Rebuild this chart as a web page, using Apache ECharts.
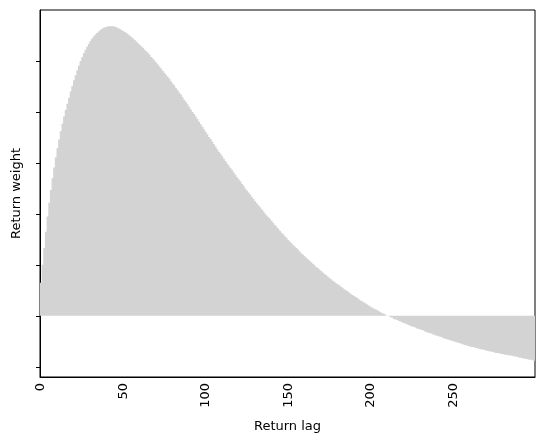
<!DOCTYPE html>
<html lang="en">
<head>
<meta charset="UTF-8">
<title></title>
<style>
    html, body { margin: 0; padding: 0; background: #fff; }
    #chart { width: 545px; height: 445px; }
</style>
</head>
<body>
<div id="chart"></div>
<script src="https://cdn.jsdelivr.net/npm/echarts@6/dist/echarts.min.js"></script>
<script>
    // return weight per lag (lag 0..299)
    var weights = [
        0.65, 1.00, 1.33, 1.65, 1.95, 2.22, 2.47, 2.70, 2.91, 3.11,
        3.29, 3.46, 3.62, 3.77, 3.91, 4.04, 4.16, 4.28, 4.40, 4.51,
        4.62, 4.72, 4.82, 4.91, 5.00, 5.08, 5.15, 5.22, 5.28, 5.34,
        5.39, 5.44, 5.48, 5.52, 5.55, 5.58, 5.61, 5.63, 5.65, 5.66,
        5.67, 5.68, 5.68, 5.68, 5.68, 5.67, 5.66, 5.64, 5.63, 5.61,
        5.59, 5.57, 5.55, 5.52, 5.50, 5.47, 5.44, 5.41, 5.38, 5.35,
        5.32, 5.29, 5.26, 5.22, 5.19, 5.16, 5.12, 5.08, 5.05, 5.01,
        4.97, 4.93, 4.89, 4.85, 4.81, 4.77, 4.73, 4.69, 4.65, 4.60,
        4.56, 4.52, 4.47, 4.43, 4.38, 4.34, 4.29, 4.24, 4.20, 4.15,
        4.10, 4.05, 4.00, 3.96, 3.91, 3.86, 3.81, 3.76, 3.71, 3.66,
        3.61, 3.56, 3.51, 3.47, 3.42, 3.37, 3.32, 3.27, 3.22, 3.18,
        3.13, 3.08, 3.04, 2.99, 2.95, 2.90, 2.86, 2.81, 2.77, 2.72,
        2.68, 2.64, 2.59, 2.55, 2.50, 2.46, 2.42, 2.38, 2.33, 2.29,
        2.25, 2.21, 2.17, 2.13, 2.09, 2.05, 2.01, 1.97, 1.94, 1.90,
        1.86, 1.82, 1.78, 1.75, 1.71, 1.67, 1.63, 1.60, 1.56, 1.53,
        1.49, 1.46, 1.43, 1.39, 1.36, 1.33, 1.30, 1.26, 1.23, 1.20,
        1.17, 1.14, 1.11, 1.08, 1.05, 1.02, 0.99, 0.96, 0.94, 0.91,
        0.88, 0.85, 0.82, 0.80, 0.77, 0.74, 0.72, 0.69, 0.67, 0.64,
        0.62, 0.60, 0.57, 0.55, 0.52, 0.50, 0.48, 0.46, 0.43, 0.41,
        0.39, 0.37, 0.35, 0.32, 0.30, 0.28, 0.26, 0.24, 0.22, 0.20,
        0.18, 0.16, 0.14, 0.13, 0.11, 0.09, 0.07, 0.05, 0.04, 0.02,
        0.00, -0.01, -0.03, -0.04, -0.06, -0.07, -0.08, -0.10, -0.11, -0.13,
        -0.14, -0.15, -0.17, -0.18, -0.20, -0.21, -0.22, -0.23, -0.25, -0.26,
        -0.27, -0.28, -0.29, -0.31, -0.32, -0.33, -0.34, -0.35, -0.37, -0.38,
        -0.39, -0.40, -0.41, -0.42, -0.44, -0.45, -0.46, -0.47, -0.48, -0.49,
        -0.50, -0.51, -0.52, -0.53, -0.54, -0.55, -0.56, -0.57, -0.58, -0.59,
        -0.60, -0.61, -0.61, -0.62, -0.63, -0.64, -0.65, -0.66, -0.66, -0.67,
        -0.68, -0.69, -0.70, -0.70, -0.71, -0.72, -0.73, -0.73, -0.74, -0.75,
        -0.75, -0.76, -0.77, -0.77, -0.78, -0.78, -0.79, -0.80, -0.80, -0.81,
        -0.82, -0.82, -0.83, -0.84, -0.84, -0.85, -0.86, -0.86, -0.87, -0.88
    ];
    var lags = weights.map(function (v, i) { return String(i); });
    // unlabeled y ticks
    var yTicks = [-1, 0, 1, 2, 3, 4, 5];

    var font = 'DejaVu Sans';
    var myChart = echarts.init(document.getElementById('chart'));

    var option = {
        animation: false,
        grid: {
            left: 40, right: 10, top: 10, bottom: 68,
            show: true, borderColor: '#000', borderWidth: 1, backgroundColor: 'transparent'
        },
        xAxis: {
            type: 'category',
            data: lags,
            name: 'Return lag',
            nameLocation: 'middle',
            nameGap: 43,
            nameTextStyle: { fontFamily: font, fontSize: 13, color: '#000' },
            axisLine: { onZero: false, lineStyle: { color: '#000', width: 1 } },
            axisTick: {
                alignWithLabel: true, length: 4,
                interval: function (i) { return i % 50 === 0; },
                lineStyle: { color: '#000' }
            },
            axisLabel: {
                rotate: 90, margin: 6,
                interval: function (i) { return i % 50 === 0; },
                fontFamily: font, fontSize: 13, color: '#000'
            },
            splitLine: { show: false }
        },
        yAxis: {
            type: 'value',
            min: -1.2,
            max: 6,
            name: 'Return weight',
            nameLocation: 'middle',
            nameGap: 17,
            nameTextStyle: { fontFamily: font, fontSize: 13, color: '#000' },
            axisLine: { show: true, lineStyle: { color: '#000', width: 1 } },
            axisTick: { show: true, length: 4, customValues: yTicks, lineStyle: { color: '#000' } },
            axisLabel: { show: false },
            splitLine: { show: false }
        },
        series: [{
            type: 'bar',
            data: weights,
            barWidth: '100%',
            large: true,
            largeThreshold: 50,
            itemStyle: { color: '#d3d3d3' }
        }]
    };

    myChart.setOption(option);
</script>
</body>
</html>
